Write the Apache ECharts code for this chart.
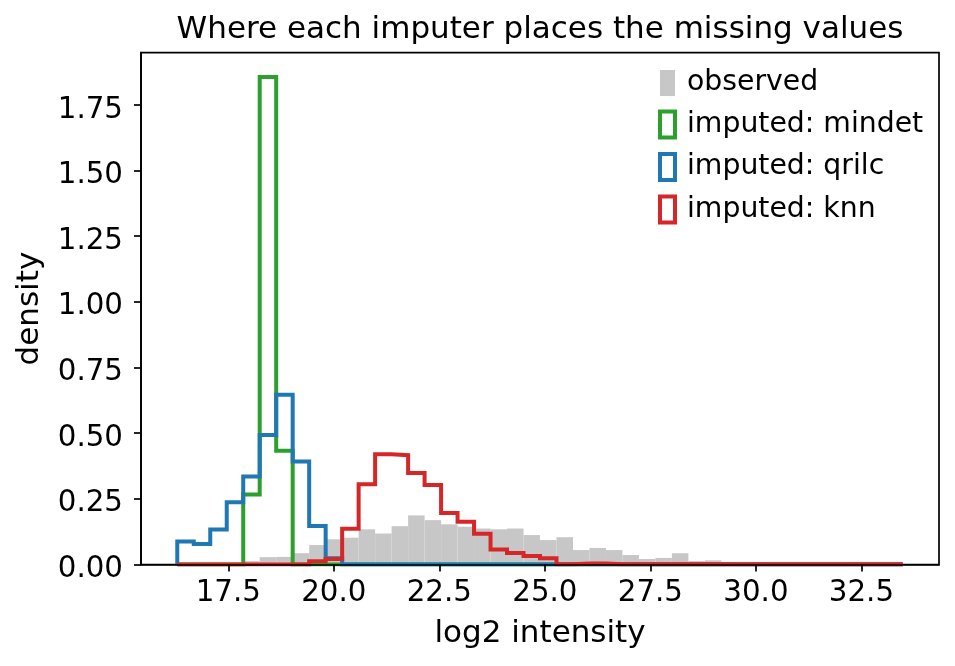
<!DOCTYPE html>
<html><head><meta charset="utf-8">
<script src="https://cdn.jsdelivr.net/npm/echarts@6/dist/echarts.min.js"></script>
<style>html,body{margin:0;padding:0;background:#fff}#c{width:955px;height:666px}</style>
</head><body><div id="c"></div>
<script>
// histogram bins (shared by all series)
const binStart = 16.292;
const binEnd = 33.478;
const binCount = 44;

// density per bin
const observed = [0.001,0.001,0.002,0.004,0.013,0.028,0.029,0.043,0.074,0.096,
  0.102,0.134,0.118,0.146,0.187,0.169,0.153,0.144,0.137,0.134,
  0.137,0.112,0.093,0.104,0.055,0.063,0.055,0.036,0.021,0.025,
  0.043,0.013,0.016,0.009,0.004,0.003,0.002,0.002,0.001,0.001,
  0.001,0.001,0.0005,0.0005];
const mindet = [0,0,0,0,0.267,1.856,0.433,0,0,0,
  0,0,0,0,0,0,0,0,0,0,
  0,0,0,0,0,0,0,0,0,0,
  0,0,0,0,0,0,0,0,0,0,
  0,0,0,0];
const qrilc = [0.088,0.078,0.133,0.237,0.335,0.493,0.646,0.392,0.147,0.024,
  0,0,0,0,0,0,0,0,0,0,
  0,0,0,0,0,0,0,0,0,0,
  0,0,0,0,0,0,0,0,0,0,
  0,0,0,0];
const knn = [0,0,0,0,0,0,0,0,0.012,0.021,
  0.136,0.306,0.420,0.416,0.348,0.303,0.196,0.163,0.117,0.057,
  0.044,0.032,0.024,0.001,0.004,0.004,0.001,0.001,0.001,0.001,
  0.001,0.001,0.001,0.001,0.001,0.001,0.001,0.001,0.001,0.001,
  0.001,0.001,0.001,0.001];

const xTicks = [17.5,20.0,22.5,25.0,27.5,30.0,32.5];
const yTicks = [0,0.25,0.5,0.75,1.0,1.25,1.5,1.75];
const names = ['observed','imputed: mindet','imputed: qrilc','imputed: knn'];
const colors = ['#c7c7c7','#2ca02c','#1f77b4','#d62728'];

const bw = (binEnd - binStart) / binCount;
const edges = [];
for (let i = 0; i <= binCount; i++) edges.push(binStart + i * bw);
const span = binEnd - binStart;
const xMin = binStart - 0.05 * span, xMax = binEnd + 0.05 * span;
const yMax = Math.max(...observed, ...mindet, ...qrilc, ...knn) * 1.05;

function stepPoints(vals) {
  const pts = [[edges[0], 0]];
  vals.forEach((v, i) => { pts.push([edges[i], v]); pts.push([edges[i + 1], v]); });
  pts.push([edges[binCount], 0]);
  return pts;
}
const font = 'DejaVu Sans';
function stepSeries(name, vals, color) {
  return {
    name, type: 'line', data: stepPoints(vals), symbol: 'none', showSymbol: false,
    lineStyle: { color, width: 4, join: 'miter', cap: 'butt' }, itemStyle: { color },
    animation: false, silent: true, z: 3
  };
}

const chart = echarts.init(document.getElementById('c'), null, { renderer: 'canvas' });
chart.setOption({
  animation: false,
  backgroundColor: '#fff',
  title: {
    text: 'Where each imputer places the missing values',
    left: 535, textAlign: 'center', top: 9,
    textStyle: { fontFamily: font, fontSize: 31, fontWeight: 'normal', color: '#000' }
  },
  grid: { left: 141, right: 16, top: 52.7, bottom: 101.5, show: true, borderColor: '#000', borderWidth: 1.7, backgroundColor: 'transparent' },
  legend: {
    orient: 'vertical', left: 653, top: 64, itemWidth: 15, itemHeight: 26, itemGap: 12.5,
    selectedMode: false,
    textStyle: { fontFamily: font, fontSize: 28.3, color: '#000', padding: [0, 0, 0, 7] },
    data: [
      { name: names[0], icon: 'rect', itemStyle: { color: colors[0], borderWidth: 0 } },
      { name: names[1], icon: 'rect', itemStyle: { color: 'rgba(0,0,0,0)', borderColor: colors[1], borderWidth: 4 } },
      { name: names[2], icon: 'rect', itemStyle: { color: 'rgba(0,0,0,0)', borderColor: colors[2], borderWidth: 4 } },
      { name: names[3], icon: 'rect', itemStyle: { color: 'rgba(0,0,0,0)', borderColor: colors[3], borderWidth: 4 } }
    ]
  },
  xAxis: {
    type: 'value', min: xMin, max: xMax, z: 10,
    name: 'log2 intensity', nameLocation: 'middle', nameGap: 54,
    nameTextStyle: { fontFamily: font, fontSize: 31, color: '#000' },
    axisLine: { show: true, lineStyle: { color: '#000', width: 1.7 } },
    axisTick: { show: true, length: 7, lineStyle: { color: '#000', width: 1.7 }, customValues: xTicks },
    axisLabel: { customValues: xTicks, formatter: v => v.toFixed(1), fontFamily: font, fontSize: 29.3, color: '#000', margin: 14 },
    splitLine: { show: false }
  },
  yAxis: {
    type: 'value', min: 0, max: yMax, z: 10,
    name: 'density', nameLocation: 'middle', nameGap: 96, nameRotate: 90,
    nameTextStyle: { fontFamily: font, fontSize: 31, color: '#000' },
    axisLine: { show: true, lineStyle: { color: '#000', width: 1.7 } },
    axisTick: { show: true, length: 7, lineStyle: { color: '#000', width: 1.7 }, customValues: yTicks },
    axisLabel: { customValues: yTicks, formatter: v => v.toFixed(2), fontFamily: font, fontSize: 29.3, color: '#000', margin: 18, verticalAlign: 'top', lineHeight: 10 },
    splitLine: { show: false }
  },
  series: [
    {
      name: names[0], type: 'custom', z: 2, silent: true,
      itemStyle: { color: colors[0] },
      data: observed.map((v, i) => [edges[i], edges[i + 1], v]),
      encode: { x: [0, 1], y: 2 },
      renderItem: function (params, api) {
        const p0 = api.coord([api.value(0), api.value(2)]);
        const p1 = api.coord([api.value(1), 0]);
        return { type: 'rect', shape: { x: p0[0], y: p0[1], width: p1[0] - p0[0], height: p1[1] - p0[1] },
                 style: { fill: colors[0] } };
      }
    },
    stepSeries(names[1], mindet, colors[1]),
    stepSeries(names[2], qrilc, colors[2]),
    stepSeries(names[3], knn, colors[3])
  ]
});
</script></body></html>
